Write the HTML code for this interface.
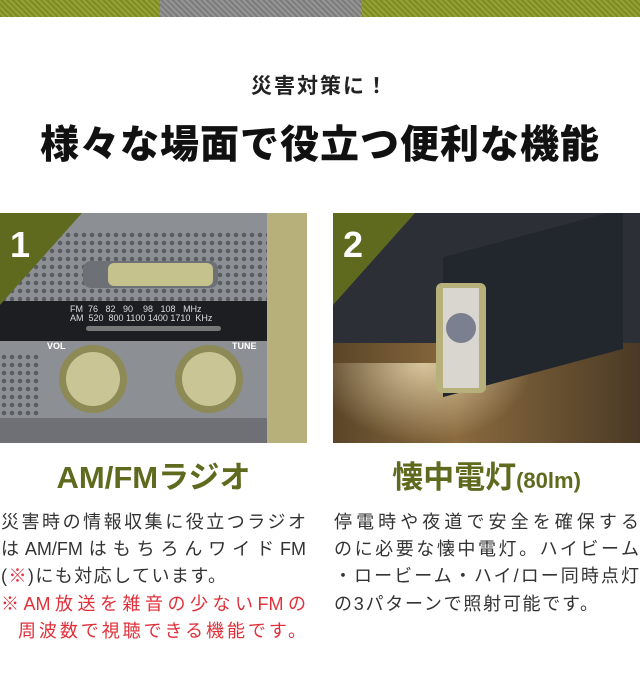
<!DOCTYPE html>
<html><head><meta charset="utf-8"><style>
*{margin:0;padding:0;box-sizing:border-box}
body{width:640px;height:675px;background:#fff;position:relative;overflow:hidden;font-family:"Liberation Sans","Noto Sans CJK JP",sans-serif}
.a{position:absolute}
.l{position:absolute;white-space:nowrap;font-size:18px;color:#333;line-height:20px;text-align:justify;text-align-last:justify;text-justify:inter-character}
.h{position:absolute;font-weight:bold;color:#5f6a1e;font-size:31px;text-align:center;white-space:nowrap}
.dots{background-image:radial-gradient(circle,#5a5d62 2px,transparent 2.5px);background-size:8px 8px}
</style></head><body>
<div class="a" style="left:0;top:0;width:160px;height:17px;background:repeating-linear-gradient(45deg,#7e8a24 0 2px,#95a233 2px 4px)"></div>
<div class="a" style="left:160px;top:0;width:202px;height:17px;background:repeating-linear-gradient(45deg,#7c7c7c 0 2px,#959595 2px 4px)"></div>
<div class="a" style="left:362px;top:0;width:278px;height:17px;background:repeating-linear-gradient(45deg,#7e8a24 0 2px,#95a233 2px 4px)"></div>

<div class="a" style="left:0;top:70px;width:640px;text-align:center;font-size:21px;font-weight:bold;color:#222;letter-spacing:2px">災害対策に！</div>
<div class="a" style="left:0;top:114px;width:640px;text-align:center;font-size:39px;font-weight:900;color:#111;letter-spacing:1px">様々な場面で役立つ便利な機能</div>

<!-- left photo -->
<div class="a" style="left:0;top:213px;width:307px;height:230px;background:#8c8f94;overflow:hidden">
 <div class="a dots" style="left:0;top:18px;width:267px;height:80px"></div>
 <div class="a dots" style="left:0;top:140px;width:40px;height:70px"></div>
 <div class="a" style="left:83px;top:48px;width:135px;height:27px;border-radius:8px;background:#6d7075"></div>
 <div class="a" style="left:108px;top:50px;width:105px;height:23px;border-radius:6px;background:#c5c28e"></div>
 <div class="a" style="left:0;top:88px;width:267px;height:40px;background:#1d1e22"></div>
 <div class="a" style="left:70px;top:92px;font-size:9px;color:#ddd;line-height:9px;white-space:pre">FM  76   82   90    98   108   MHz
AM  520  800 1100 1400 1710  KHz</div>
 <div class="a" style="left:86px;top:113px;width:135px;height:5px;background:#777;border-radius:3px"></div>
 <div class="a" style="left:267px;top:0;width:40px;height:230px;background:#b7b07a"></div>
 <div class="a" style="left:59px;top:132px;width:68px;height:68px;border-radius:50%;background:#8e8a55"></div>
 <div class="a" style="left:66px;top:139px;width:54px;height:54px;border-radius:50%;background:#c9c594"></div>
 <div class="a" style="left:175px;top:132px;width:68px;height:68px;border-radius:50%;background:#8e8a55"></div>
 <div class="a" style="left:182px;top:139px;width:54px;height:54px;border-radius:50%;background:#c9c594"></div>
 <div class="a" style="left:47px;top:128px;font-size:9px;color:#fff;font-weight:bold">VOL</div>
 <div class="a" style="left:232px;top:128px;font-size:9px;color:#fff;font-weight:bold">TUNE</div>
 <div class="a" style="left:0;top:205px;width:267px;height:25px;background:#6e7075"></div>
 <svg class="a" style="left:0;top:0" width="82" height="92"><polygon points="0,0 82,0 0,92" fill="#5f6a1e"/><text x="10" y="44" font-family="Liberation Sans" font-weight="bold" font-size="36" fill="#fff">1</text></svg>
</div>

<!-- right photo -->
<div class="a" style="left:333px;top:213px;width:307px;height:230px;background:#2c3036;overflow:hidden">
 <div class="a" style="left:0;top:130px;width:307px;height:100px;background:linear-gradient(90deg,#5a4528,#8a6a3e 40%,#4a3a25)"></div>
 <div class="a" style="left:0;top:150px;width:200px;height:80px;background:radial-gradient(ellipse at 45% 0%,rgba(255,240,200,.7),transparent 70%)"></div>
 <div class="a" style="left:110px;top:20px;width:180px;height:140px;background:#22272e;transform:skewY(-15deg)"></div>
 <div class="a" style="left:103px;top:70px;width:50px;height:110px;background:#b8b07a;border-radius:6px"></div>
 <div class="a" style="left:110px;top:75px;width:36px;height:100px;background:#d8d6cf"></div>
 <div class="a" style="left:113px;top:100px;width:30px;height:30px;border-radius:50%;background:#7a8090"></div>
 <svg class="a" style="left:0;top:0" width="82" height="92"><polygon points="0,0 82,0 0,92" fill="#5f6a1e"/><text x="10" y="44" font-family="Liberation Sans" font-weight="bold" font-size="36" fill="#fff">2</text></svg>
</div>

<div class="h" style="left:0;top:452px;width:307px">AM/FMラジオ</div>
<div class="h" style="left:333px;top:452px;width:307px">懐中電灯<span style="font-size:22px">(80lm)</span></div>

<div class="l" style="left:1px;top:512px;width:305px">災害時の情報収集に役立つラジオ</div>
<div class="l" style="left:1px;top:539px;width:305px">はAM/FMはもちろんワイドFM</div>
<div class="l" style="left:1px;top:566px;width:225px">(<span style="color:#e0303a">※</span>)にも対応しています。</div>
<div class="l" style="left:1px;top:594px;width:305px;color:#e0303a">※AM放送を雑音の少ないFMの</div>
<div class="l" style="left:18px;top:621px;width:288px;color:#e0303a">周波数で視聴できる機能です。</div>

<div class="l" style="left:334px;top:512px;width:305px">停電時や夜道で安全を確保する</div>
<div class="l" style="left:334px;top:539px;width:305px">のに必要な懐中電灯。ハイビーム</div>
<div class="l" style="left:334px;top:566px;width:305px">・ロービーム・ハイ/ロー同時点灯</div>
<div class="l" style="left:334px;top:594px;width:264px">の3パターンで照射可能です。</div>
</body></html>
